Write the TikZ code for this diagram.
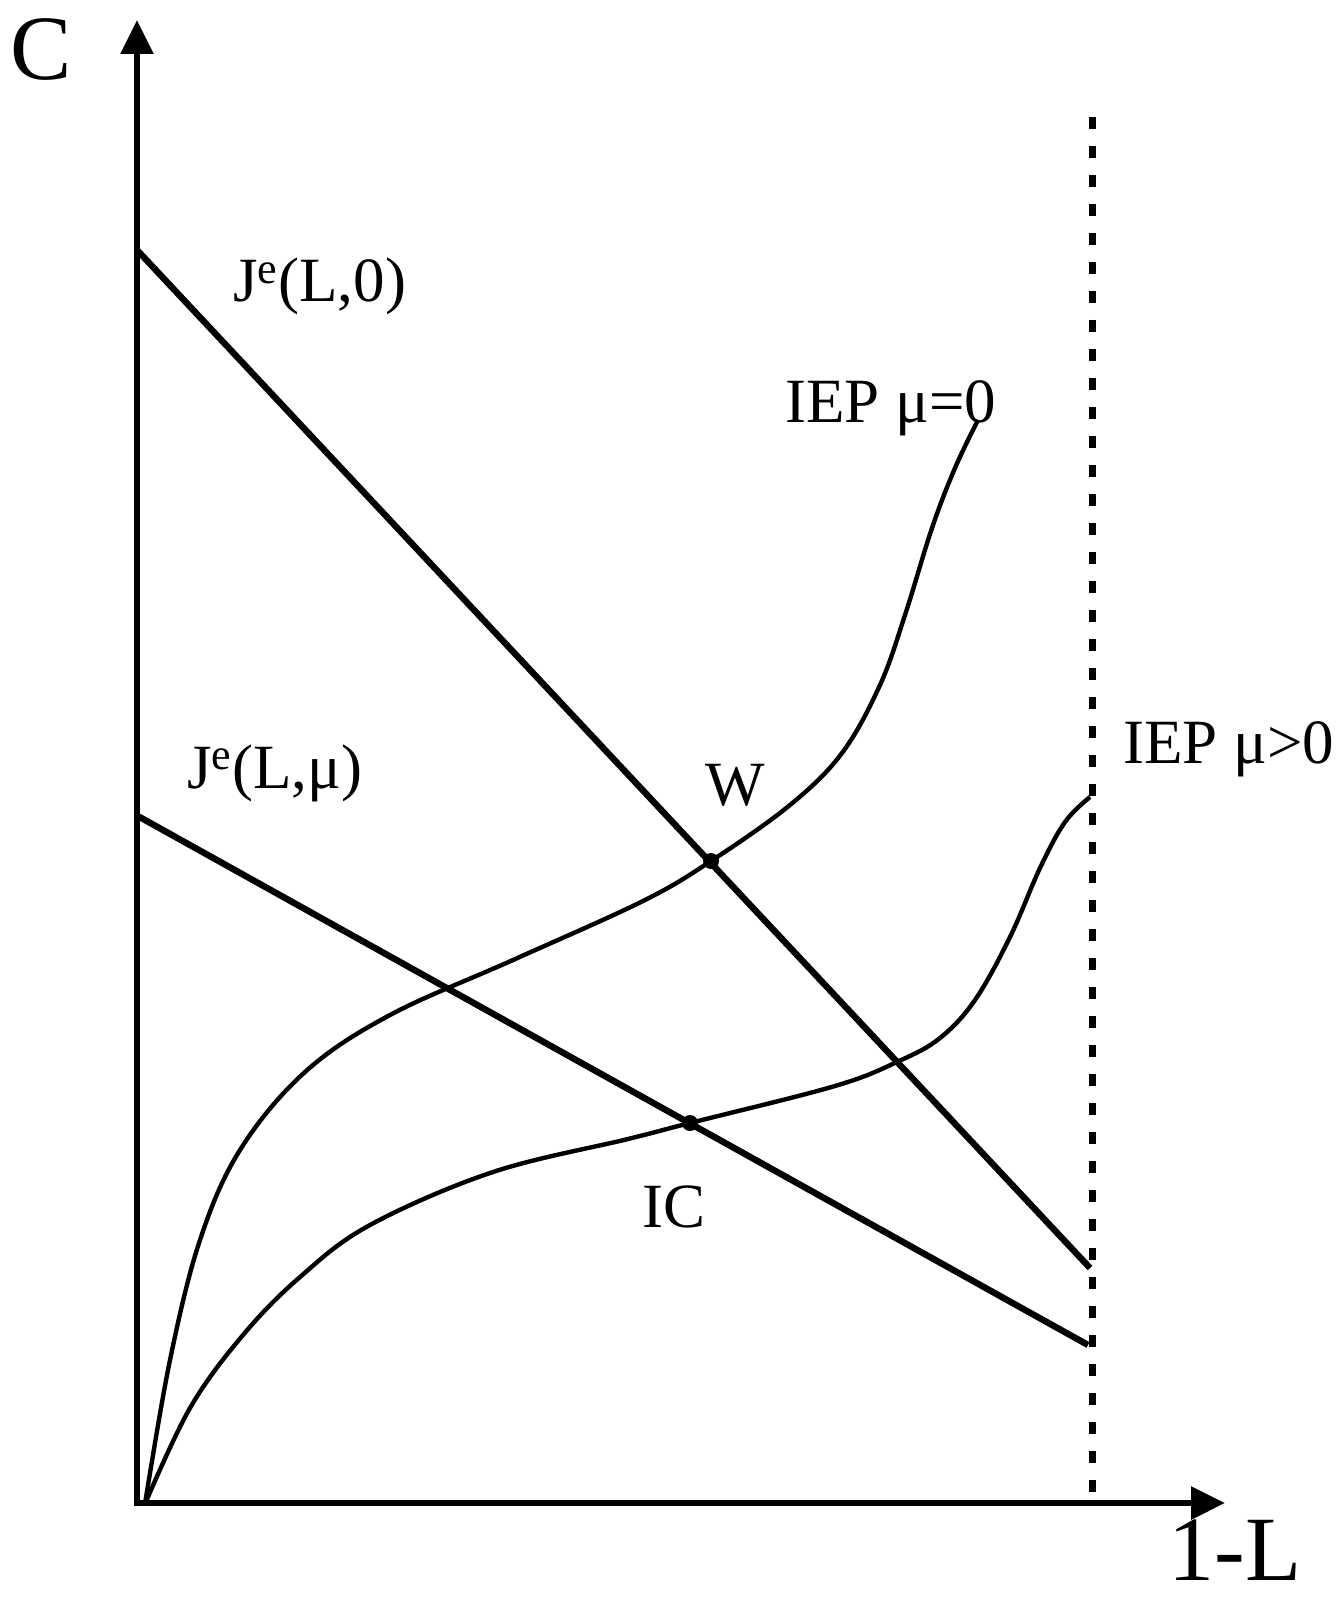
\documentclass[tikz,border=0pt]{standalone}
\usepackage{fontspec}
\setmainfont{Liberation Serif}
\usetikzlibrary{arrows.meta}
\begin{document}
\begin{tikzpicture}[x=0.5pt,y=-0.5pt,
  axis/.style={line width=3pt,-{Triangle[length=17pt,width=16pt]}},
  budget/.style={line width=3.2pt},
  iep/.style={line width=2.2pt,line join=round},
  bound/.style={line width=3.5pt,dash pattern=on 6pt off 8.5pt},
  lbl/.style={inner sep=0pt,anchor=base west,font=\fontsize{31.5}{36}\selectfont},
  big/.style={inner sep=0pt,anchor=base west,font=\fontsize{46}{52}\selectfont},
  dotpt/.style={circle,fill,inner sep=0pt,minimum size=8pt}]
\useasboundingbox (0,0) rectangle (1342,1598);

% axes
\coordinate (O) at (137,1503);
\coordinate (Ytop) at (137,20);
\coordinate (Xend) at (1225,1503);
\coordinate (Ox) at (134,1503);
\draw[axis] (O) -- (Ytop);
\draw[axis] (Ox) -- (Xend);

% dotted bound
\coordinate (Dtop) at (1092,117);
\coordinate (Dbot) at (1092,1503);
\draw[bound] (Dtop) -- (Dbot);

% budget lines
\coordinate (J0a) at (137,250);
\coordinate (J0b) at (1090,1268);
\coordinate (Jma) at (136,815);
\coordinate (Jmb) at (1088,1345);
\draw[budget] (J0a) -- (J0b);
\draw[budget] (Jma) -- (Jmb);

% IEP curves
\draw[iep] plot[smooth,tension=0.6] coordinates {
  (145,1504) (170,1360) (200,1240) (240,1150) (305,1072)
  (390,1015) (513,960) (643,901) (711,861) (790,805) (842,753)
  (880,685) (905,615) (932,528) (955,468) (978,420)};
\draw[iep] plot[smooth,tension=0.6] coordinates {
  (145,1504) (190,1408) (243,1335) (300,1277) (370,1225) (493,1172)
  (628,1139) (690,1123) (835,1086) (899,1061) (940,1038) (975,1000)
  (1010,937) (1040,868) (1065,822) (1090,797)};

% points
\node[dotpt] (Wpt) at (711,861) {};
\node[dotpt] (ICpt) at (690,1123) {};

% labels
\node[big] (Clab) at (10,80) {C};
\node[big] (Llab) at (1168,1580) {1-L};
\node[lbl] (J0lab) at (233,302) {J\textsuperscript{e}(L,0)};
\node[lbl] (Jmlab) at (187,788) {J\textsuperscript{e}(L,μ)};
\node[lbl] (I0lab) at (785,423) {IEP μ=0};
\node[lbl] (Implab) at (1123,763) {IEP μ>0};
\node[lbl] (Wlab) at (705,805) {W};
\node[lbl] (IClab) at (642,1227) {IC};
\end{tikzpicture}
\end{document}
